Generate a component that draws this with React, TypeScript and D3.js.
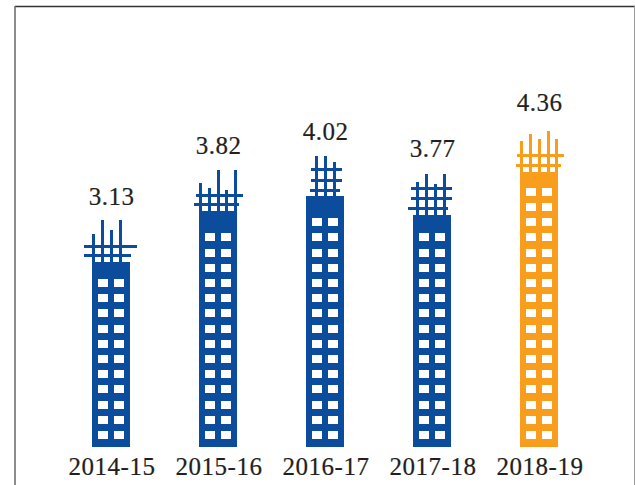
import React from "react";
import * as d3 from "d3";

const categories = ["2014-15", "2015-16", "2016-17", "2017-18", "2018-19"];
const values = [3.13, 3.82, 4.02, 3.77, 4.36];
const highlight = ["2018-19"];
// Spire horizontal offset from the bar centre
const spireOffsets = [
  [-17.5, -8.5, 0.5, 9.5],
  [-17.5, -8.5, 0.5, 8.5, 17.5],
  [-8.5, 0.5, 9.5],
  [-14.5, -5.5, 3.5, 12.5],
  [-17.5, -8.5, 0.5, 9.5, 17.5],
];
// Spire rise above the bar top
const spireHeights = [
  [28, 42, 32, 42],
  [28, 23, 41, 21, 41],
  [40, 40, 34],
  [33, 41, 31, 41],
  [31, 38, 33, 41, 33],
];
// Scaffold crossbars: [left offset, right offset, rise above bar top]
const crossbars = [
  [[-27, 26, 17], [-27, 20, 8]],
  [[-22, 25, 17], [-24, 21, 8]],
  [[-14, 17, 28], [-14, 17, 17], [-15, 15, 7]],
  [[-21, 20, 28], [-21, 20, 18], [-24, 16, 8]],
  [[-22, 25, 18], [-23, 22, 8]],
];
const labelGaps = [57, 57, 56, 58, 61];
const BLUE = "#0b4c9c";
const ORANGE = "#f99d1c";
const TEXT = "#231f20";

const x = d3.scalePoint<string>().domain(categories).range([111, 539]);
const y = d3.scaleLinear().domain([0.6, 4.36]).range([447, 171.5]);
const barW = 38;
const font = { fontFamily: "Liberation Serif", fontSize: 25, letterSpacing: 0.5, fill: TEXT, stroke: TEXT, strokeWidth: 0.2 };

export default function App() {
  return (
    <svg width={635} height={485} style={{ position: "absolute", left: 0, top: 0 }}>
      <rect width={635} height={485} fill="#fff" />
      <line x1={15} y1={6.5} x2={635} y2={6.5} stroke="#333" strokeWidth={1.5} />
      <line x1={15} y1={6} x2={15} y2={485} stroke="#666" strokeWidth={1.5} />
      <line x1={634.5} y1={6} x2={634.5} y2={485} stroke="#999" strokeWidth={1} />
      {categories.map((c, i) => {
        const cx = x(c)!;
        const top = Math.round(y(values[i]));
        const col = highlight.includes(c) ? ORANGE : BLUE;
        const rows = d3.range(0, Math.floor((431 - top - 15) / 15.2) + 1);
        return (
          <g key={c}>
            <rect x={cx - barW / 2} y={top} width={barW} height={447 - top} fill={col} />
            {rows.map((r) =>
              [-13, 3].map((dx) => (
                <rect key={dx} x={cx + dx} y={Math.round(431 - r * 15.2)} width={10} height={8} fill="#fff" />
              ))
            )}
            {spireOffsets[i].map((o, k) => (
              <rect key={k} x={cx + o - 1.5} y={top - spireHeights[i][k]} width={3} height={spireHeights[i][k]} fill={col} />
            ))}
            {crossbars[i].map(([l, r, rise], k) => (
              <rect key={k} x={cx + l} y={top - rise} width={r - l} height={3} fill={col} />
            ))}
            <text x={cx + 0.5} y={top - labelGaps[i]} textAnchor="middle" {...font}>
              {values[i].toFixed(2)}
            </text>
            <text x={cx + 1} y={475} textAnchor="middle" {...font}>
              {c}
            </text>
          </g>
        );
      })}
    </svg>
  );
}
